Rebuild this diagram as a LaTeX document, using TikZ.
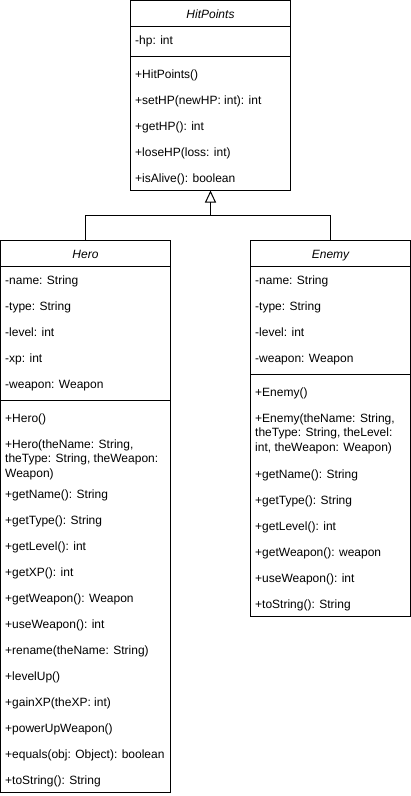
\documentclass[tikz,border=0pt]{standalone}
\usepackage{fontspec}
\setmainfont{Liberation Sans}
\usetikzlibrary{arrows.meta}
\begin{document}
\begin{tikzpicture}[x=1pt,y=-1pt,
  box/.style={draw=black, line width=1pt, fill=white, anchor=north west, inner sep=0pt, outer sep=0pt},
  sepline/.style={line width=1pt},
  row/.style={anchor=base west, inner sep=0pt, font=\fontsize{12}{14.5}\selectfont},
  head/.style={anchor=base, inner sep=0pt, font=\fontsize{12}{14.5}\selectfont\itshape},
  conn/.style={line width=1pt},
]
\fill[white] (0,0) rectangle (411,796);
\useasboundingbox (0,0) rectangle (411,796);

% ---------- HitPoints ----------
\node[box, minimum width=160pt, minimum height=190pt] (hp) at (130.5,0.5) {};
\draw[sepline] ([yshift=-26pt]hp.north west) -- ([yshift=-26pt]hp.north east);
\draw[sepline] ([yshift=-56pt]hp.north west) -- ([yshift=-56pt]hp.north east);
\node[head] (hpt) at (210.5,18) {HitPoints};
\node[row] (hpa1) at (135,44) {-hp: int};
\node[row] (hpm1) at (135,78) {+HitPoints()};
\node[row] (hpm2) at (135,104) {+setHP(newHP: int): int};
\node[row] (hpm3) at (135,130) {+getHP(): int};
\node[row] (hpm4) at (135,156) {+loseHP(loss: int)};
\node[row] (hpm5) at (135,182) {+isAlive(): boolean};

% ---------- Hero ----------
\node[box, minimum width=170pt, minimum height=552pt] (hero) at (0.5,240.5) {};
\draw[sepline] ([yshift=-26pt]hero.north west) -- ([yshift=-26pt]hero.north east);
\draw[sepline] ([yshift=-160pt]hero.north west) -- ([yshift=-160pt]hero.north east);
\node[head] (het) at (85.5,258) {Hero};
\node[row] (hea1) at (5,284) {-name: String};
\node[row] (hea2) at (5,310) {-type: String};
\node[row] (hea3) at (5,336) {-level: int};
\node[row] (hea4) at (5,362) {-xp: int};
\node[row] (hea5) at (5,388) {-weapon: Weapon};
\node[row] (hem1) at (5,422) {+Hero()};
\node[row] (hem2a) at (5,448) {+Hero(theName: String,};
\node[row] (hem2b) at (5,462.5) {theType: String, theWeapon:};
\node[row] (hem2c) at (5,477) {Weapon)};
\node[row] (hem3) at (5,498) {+getName(): String};
\node[row] (hem4) at (5,524) {+getType(): String};
\node[row] (hem5) at (5,550) {+getLevel(): int};
\node[row] (hem6) at (5,576) {+getXP(): int};
\node[row] (hem7) at (5,602) {+getWeapon(): Weapon};
\node[row] (hem8) at (5,628) {+useWeapon(): int};
\node[row] (hem9) at (5,654) {+rename(theName: String)};
\node[row] (hem10) at (5,680) {+levelUp()};
\node[row] (hem11) at (5,706) {+gainXP(theXP: int)};
\node[row] (hem12) at (5,732) {+powerUpWeapon()};
\node[row] (hem13) at (5,758) {+equals(obj: Object): boolean};
\node[row] (hem14) at (5,784) {+toString(): String};

% ---------- Enemy ----------
\node[box, minimum width=160pt, minimum height=376pt] (enemy) at (250.5,240.5) {};
\draw[sepline] ([yshift=-26pt]enemy.north west) -- ([yshift=-26pt]enemy.north east);
\draw[sepline] ([yshift=-134pt]enemy.north west) -- ([yshift=-134pt]enemy.north east);
\node[head] (ent) at (330.5,258) {Enemy};
\node[row] (ena1) at (255,284) {-name: String};
\node[row] (ena2) at (255,310) {-type: String};
\node[row] (ena3) at (255,336) {-level: int};
\node[row] (ena4) at (255,362) {-weapon: Weapon};
\node[row] (enm1) at (255,396) {+Enemy()};
\node[row] (enm2a) at (255,422) {+Enemy(theName: String,};
\node[row] (enm2b) at (255,436.5) {theType: String, theLevel:};
\node[row] (enm2c) at (255,451) {int, theWeapon: Weapon)};
\node[row] (enm3) at (255,478) {+getName(): String};
\node[row] (enm4) at (255,504) {+getType(): String};
\node[row] (enm5) at (255,530) {+getLevel(): int};
\node[row] (enm6) at (255,556) {+getWeapon(): weapon};
\node[row] (enm7) at (255,582) {+useWeapon(): int};
\node[row] (enm8) at (255,608) {+toString(): String};

% ---------- Generalization ----------
\coordinate (junc) at (210.5,215.5);
\draw[conn,-{Triangle[open,width=11pt,length=12pt]}] (hero.north) |- (junc) -- (hp.south);
\draw[conn] (enemy.north) |- (junc);
\end{tikzpicture}
\end{document}
